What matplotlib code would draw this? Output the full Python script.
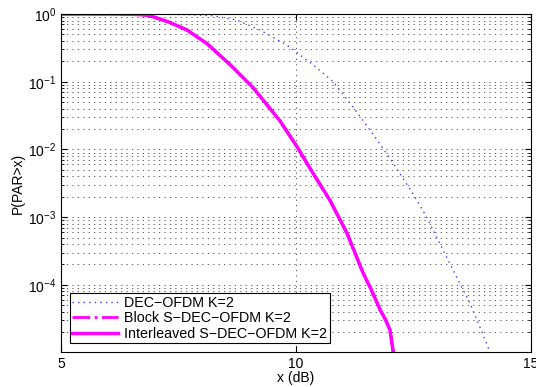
import numpy as np
import matplotlib
matplotlib.use('Agg')
import matplotlib.pyplot as plt
from matplotlib.ticker import LogLocator, NullFormatter, FixedLocator

plt.rcParams['font.family'] = ['Liberation Sans', 'DejaVu Sans']
plt.rcParams['mathtext.fontset'] = 'custom'
plt.rcParams['mathtext.rm'] = 'Liberation Sans'
plt.rcParams['mathtext.it'] = 'Liberation Sans'

# CCDF of PAR
x_dec = [5.0, 6.5, 6.96, 7.6, 8.23, 8.74, 9.23, 9.81, 10.36, 10.79, 11.26, 11.57,
         12.0, 12.5, 12.78, 13.13, 13.45, 13.7, 13.91, 14.13]
p_dec = [1.0, 1.0, 0.995, 0.982, 0.944, 0.813, 0.581, 0.347, 0.178, 0.1, 0.0382, 0.0195,
         0.0074, 0.00214, 0.001, 0.000324, 0.000117, 0.0000537, 0.000024, 0.0000100]

x_block = [5.0, 6.0, 6.5, 6.75, 6.96, 7.3, 7.68, 8.11, 8.6, 9.09, 9.66, 10.02, 10.36,
           10.72, 11.08, 11.43, 11.6, 11.79, 11.9, 12.0, 12.07]
p_block = [1.0, 1.0, 0.993, 0.972, 0.912, 0.759, 0.581, 0.363, 0.178, 0.0813, 0.0263, 0.011, 0.00447,
           0.00178, 0.000589, 0.000148, 0.000085, 0.0000427, 0.000031, 0.0000214, 0.0000100]

x_inter = x_block
p_inter = p_block

fig = plt.figure(figsize=(5.36, 3.87), dpi=100)
ax = fig.add_axes([0.1138, 0.0904, 0.877, 0.8734])

ax.semilogy(x_dec, p_dec, color='#3a3aff', linewidth=1.0, dashes=(1, 3),
            label='DEC\u2212OFDM K=2')
ax.semilogy(x_block, p_block, '-.', color='magenta', linewidth=2.0,
            label='Block S\u2212DEC\u2212OFDM K=2')
ax.semilogy(x_inter, p_inter, '-', color='magenta', linewidth=2.5,
            label='Interleaved S\u2212DEC\u2212OFDM K=2')

ax.set_xlim(5, 15)
ax.set_ylim(1.02e-5, 1)
ax.set_xticks([5, 10, 15])
ax.set_xticklabels(['5', '10', '15'])
ax.yaxis.set_major_locator(FixedLocator([1e-4, 1e-3, 1e-2, 1e-1, 1e0]))
ax.set_yticklabels(['$10^{-4}$', '$10^{-3}$', '$10^{-2}$', '$10^{-1}$', '$10^{0}$'])
ax.yaxis.set_minor_locator(LogLocator(base=10, subs=np.arange(2, 10), numticks=20))
ax.yaxis.set_minor_formatter(NullFormatter())

grid_kw = dict(color='black', linewidth=0.6, dashes=(1.5, 5), alpha=0.75)
ax.grid(True, which='major', **grid_kw)
ax.grid(True, which='minor', axis='y', **grid_kw)

ax.tick_params(which='both', direction='in', top=True, right=True, labelsize=10)
ax.tick_params(which='major', length=4)
ax.tick_params(which='minor', length=2)
for s in ax.spines.values():
    s.set_linewidth(0.8)

ax.set_xlabel('x (dB)', fontsize=10, labelpad=0)
ax.set_ylabel('P(PAR>x)', fontsize=10, labelpad=2)

leg = ax.legend(loc='lower left', fontsize=10.3, fancybox=False, framealpha=1,
                edgecolor='black', borderpad=0.2, labelspacing=0.1, handlelength=3.2,
                handletextpad=0.4, borderaxespad=0.6)
leg.get_frame().set_linewidth(0.8)

fig.savefig('out.png', dpi=100)
